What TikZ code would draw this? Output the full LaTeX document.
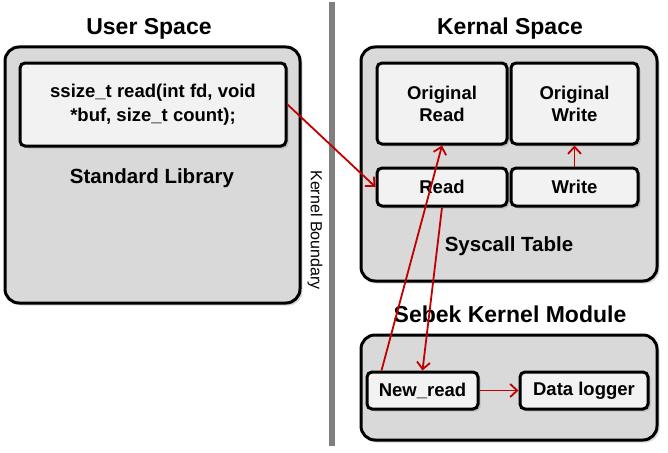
\documentclass[tikz,border=0pt]{standalone}
\usepackage{fontspec}
\setmainfont{Liberation Sans}
\usetikzlibrary{arrows.meta,shadows,calc}
\definecolor{panelgray}{HTML}{D9D9D9}
\definecolor{cellgray}{HTML}{F2F2F2}
\definecolor{callred}{HTML}{C00000}
\definecolor{boundgray}{HTML}{808080}
\begin{document}
\begin{tikzpicture}[x=1pt,y=-1pt,
    panel/.style={draw=black,line width=3pt,fill=panelgray,rounded corners=14pt,inner sep=0pt,
      drop shadow={shadow xshift=2.5pt,shadow yshift=-2.5pt,opacity=0.3}},
    cell/.style={draw=black,line width=3pt,fill=cellgray,rounded corners=5pt,inner sep=0pt,align=center,
      font=\fontsize{18.5}{22}\selectfont\bfseries,
      drop shadow={shadow xshift=2.5pt,shadow yshift=-2.5pt,opacity=0.3}},
    headtext/.style={anchor=base,font=\fontsize{23}{27}\selectfont\bfseries},
    paneltext/.style={anchor=base,font=\fontsize{20.5}{24}\selectfont\bfseries},
    call/.style={draw=callred,line width=1.8pt,-{Straight Barb[length=7pt,width=13pt]}}]
  \useasboundingbox (0,0) rectangle (668,452);
  % Kernel boundary: thick gray line down the middle
  \coordinate (bndtop) at (332,2);
  \coordinate (bndbot) at (332,446);
  \draw[boundgray,line width=6pt] (bndtop) -- (bndbot);
  \node[rotate=-90,font=\fontsize{16}{18}\selectfont] (bndlabel) at (315,230) {Kernel Boundary};
  % User space panel
  \node[headtext] (usertitle) at (149,35) {User Space};
  \node[panel,minimum width=295pt,minimum height=256pt] (userpanel) at (152.5,175) {};
  \node[cell,minimum width=266pt,minimum height=83pt,font=\fontsize{18.5}{24}\selectfont\bfseries]
    (ssize) at (153,104.5) {ssize\_t read(int fd, void\\*buf, size\_t count);};
  \node[paneltext] (stdlib) at (152,183) {Standard Library};
  % Kernel space panel with the syscall table
  \node[headtext] (kerntitle) at (510,35) {Kernal Space};
  \node[panel,minimum width=296pt,minimum height=234pt] (kernpanel) at (509,164) {};
  \node[cell,minimum width=130pt,minimum height=81pt] (origread) at (442,103.5) {Original\\Read};
  \node[cell,minimum width=127pt,minimum height=81pt] (origwrite) at (574.5,103.5) {Original\\Write};
  \node[cell,minimum width=130pt,minimum height=38pt] (read) at (442,187) {Read};
  \node[cell,minimum width=127pt,minimum height=38pt] (write) at (574.5,187) {Write};
  \node[paneltext] (syscall) at (509,251) {Syscall Table};
  % Sebek module panel
  \node[headtext] (sebektitle) at (510,322) {Sebek Kernel Module};
  \node[panel,minimum width=296pt,minimum height=105pt] (sebekpanel) at (509,387.5) {};
  \node[cell,minimum width=111pt,minimum height=37pt] (newread) at (422.5,390.5) {New\_read};
  \node[cell,minimum width=128pt,minimum height=37pt] (logger) at (584,390.5) {Data logger};
  % Call flow (red)
  \draw[call] (ssize.east) -- (read.west);
  \draw[call] (write.north) -- (origwrite.south);
  \draw[call] (read.south) -- (newread.north);
  \draw[call] ($(newread.north west)+(16,0)$) -- (origread.south);
  \draw[call] (newread.east) -- (logger.west);
\end{tikzpicture}
\end{document}
